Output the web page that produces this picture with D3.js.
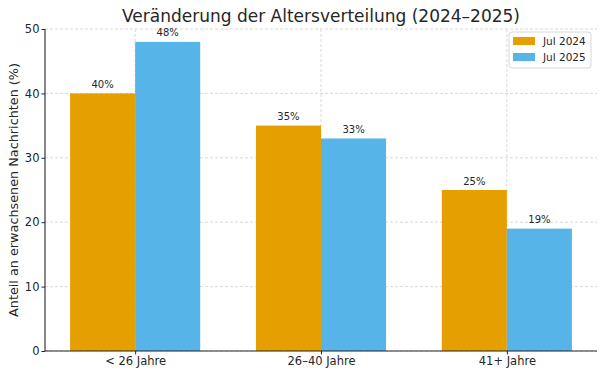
<!DOCTYPE html>
<html>
<head>
<meta charset="utf-8">
<script src="https://cdn.jsdelivr.net/npm/d3@7"></script>
<style>
  body { margin: 0; background: #fff; }
  text { font-family: "DejaVu Sans", sans-serif; fill: #262626; }
</style>
</head>
<body>
<div id="chart"></div>
<script>
const categories = ['< 26 Jahre', '26–40 Jahre', '41+ Jahre'];
const seriesNames = ['Jul 2024', 'Jul 2025'];
const jul2024 = [40, 35, 25];
const jul2025 = [48, 33, 19];
const yTicks = [0, 10, 20, 30, 40, 50];
const colors = ['#E69F00', '#56B4E9'];

const W = 604, H = 375;
const margin = { top: 29, right: 7, bottom: 24, left: 45 };
const innerW = W - margin.left - margin.right;
const innerH = H - margin.top - margin.bottom;
const barW = 0.35;

const svg = d3.select('#chart').append('svg')
  .attr('width', W).attr('height', H);

// category index as linear position, like matplotlib
const x = d3.scaleLinear().domain([-0.485, 2.485]).range([0, innerW]);
const y = d3.scaleLinear().domain([0, 50]).range([innerH, 0]);

const g = svg.append('g').attr('transform', `translate(${margin.left},${margin.top})`);

// grid
g.append('g').selectAll('line.hy').data(yTicks).enter().append('line')
  .attr('x1', 0).attr('x2', innerW)
  .attr('y1', d => y(d)).attr('y2', d => y(d))
  .attr('stroke', '#cfcfcf').attr('stroke-width', 0.8).attr('stroke-dasharray', '3,2');
g.append('g').selectAll('line.vx').data(categories).enter().append('line')
  .attr('x1', (d, i) => x(i)).attr('x2', (d, i) => x(i))
  .attr('y1', 0).attr('y2', innerH)
  .attr('stroke', '#cfcfcf').attr('stroke-width', 0.8).attr('stroke-dasharray', '3,2');

const series = [jul2024, jul2025];
series.forEach((vals, s) => {
  const off = s === 0 ? -barW : 0;
  g.append('g').selectAll('rect').data(vals).enter().append('rect')
    .attr('x', (d, i) => x(i + off))
    .attr('width', x(barW) - x(0))
    .attr('y', d => y(d))
    .attr('height', d => innerH - y(d))
    .attr('fill', colors[s]);
  g.append('g').selectAll('text').data(vals).enter().append('text')
    .attr('x', (d, i) => x(i + off + barW / 2))
    .attr('y', d => y(d) - 5.5)
    .attr('text-anchor', 'middle')
    .attr('font-size', 10)
    .text(d => d + '%');
});

// axes
const yAxis = g.append('g').call(d3.axisLeft(y).tickValues(yTicks).tickSize(3.5).tickPadding(2));
const xAxis = g.append('g').attr('transform', `translate(0,${innerH})`)
  .call(d3.axisBottom(x).tickValues([0, 1, 2]).tickFormat(i => categories[i]).tickSize(3.5).tickPadding(2.5));
[yAxis, xAxis].forEach(a => {
  a.select('.domain').attr('stroke', '#262626').attr('stroke-width', 1.1);
  a.selectAll('.tick line').attr('stroke', '#262626');
  a.selectAll('.tick text').attr('font-size', 11.5).attr('fill', '#262626')
    .style('font-family', '"DejaVu Sans", sans-serif');
});
xAxis.select('.domain').attr('d', `M0,0H${innerW}`);
yAxis.select('.domain').attr('d', `M0,${innerH}V0`);

svg.append('text')
  .attr('x', margin.left + innerW / 2).attr('y', 22)
  .attr('text-anchor', 'middle').attr('font-size', 17)
  .text('Veränderung der Altersverteilung (2024–2025)');

svg.append('text')
  .attr('transform', `translate(17.5,${margin.top + innerH / 2}) rotate(-90)`)
  .attr('text-anchor', 'middle').attr('font-size', 12.8)
  .text('Anteil an erwachsenen Nachrichten (%)');

// legend
const lg = svg.append('g').attr('transform', 'translate(509,32)');
lg.append('rect').attr('width', 82).attr('height', 36).attr('rx', 3)
  .attr('fill', '#fff').attr('fill-opacity', 0.8).attr('stroke', '#d8d8d8');
seriesNames.forEach((n, i) => {
  lg.append('rect').attr('x', 4).attr('y', 5 + i * 16).attr('width', 22).attr('height', 8)
    .attr('fill', colors[i]);
  lg.append('text').attr('x', 34).attr('y', 13 + i * 16).attr('font-size', 10.5).text(n);
});
</script>
</body>
</html>
